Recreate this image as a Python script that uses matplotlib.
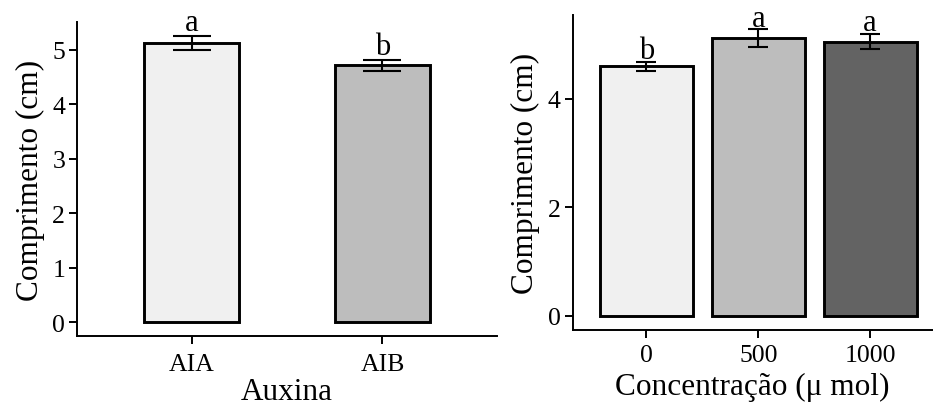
import numpy as np
import matplotlib
matplotlib.use('Agg')
import matplotlib.pyplot as plt

plt.rcParams['font.family'] = ['Liberation Serif', 'DejaVu Serif']

# --- data ---
auxina = ['AIA', 'AIB']
aux_mean = [5.12, 4.72]
aux_se = [0.13, 0.10]
aux_letters = ['a', 'b']
aux_colors = ['#F0F0F0', '#BDBDBD']

conc = ['0', '500', '1000']
conc_mean = [4.60, 5.12, 5.06]
conc_se = [0.09, 0.165, 0.14]
conc_letters = ['b', 'a', 'a']
conc_colors = ['#F0F0F0', '#BDBDBD', '#636363']

ylabel = 'Comprimento (cm)'


def style_axis(ax, xpad):
    for side in ['top', 'right']:
        ax.spines[side].set_visible(False)
    for side in ['left', 'bottom']:
        ax.spines[side].set_linewidth(1.4)
        ax.spines[side].set_color('black')
    ax.tick_params(direction='out', length=5.5, width=1.4, colors='black',
                   labelsize=18.5)
    ax.tick_params(axis='y', pad=3)
    ax.tick_params(axis='x', pad=xpad)


def panel(ax, cats, means, ses, letters, colors, width, xlim, yticks,
          capsize, text_off, xlabel, xpad, xlabelpad):
    x = np.arange(1, len(cats) + 1)
    means = np.array(means)
    ses = np.array(ses)
    ax.bar(x, means, width=width, color=colors, edgecolor='black',
           linewidth=2.1, zorder=2)
    ax.errorbar(x, means, yerr=ses, fmt='none', ecolor='black',
                elinewidth=1.5, capsize=capsize, capthick=1.5, zorder=3)
    for xi, top, lab in zip(x, means + ses, letters):
        ax.annotate(lab, (xi, top), xytext=(0, text_off),
                    textcoords='offset points', ha='center', va='baseline',
                    fontsize=22)
    # ggplot-like 5% expansion
    top = (means + ses).max()
    ax.set_ylim(-0.05 * top, top * 1.05)
    ax.set_xlim(*xlim)
    ax.set_xticks(x)
    ax.set_xticklabels(cats)
    ax.set_yticks(yticks)
    ax.set_xlabel(xlabel, fontsize=22.5, labelpad=xlabelpad)
    ax.set_ylabel(ylabel, fontsize=22.5, labelpad=5.5)
    style_axis(ax, xpad)


fig = plt.figure(figsize=(9.33, 4.06), dpi=100)
ax1 = fig.add_axes([0.0825, 0.1692, 0.4502, 0.7741])
ax2 = fig.add_axes([0.6138, 0.1847, 0.3859, 0.7759])

panel(ax1, auxina, aux_mean, aux_se, aux_letters, aux_colors, 0.5,
      (0.4, 2.6), [0, 1, 2, 3, 4, 5], 13.5, 4.4, 'Auxina', 6.5, 1.2)
panel(ax2, conc, conc_mean, conc_se, conc_letters, conc_colors, 0.83,
      (0.34, 3.56), [0, 2, 4], 7.2, 2.6, 'Concentração (μ mol)', 4.5, 4)

fig.savefig('out.png', dpi=100)
